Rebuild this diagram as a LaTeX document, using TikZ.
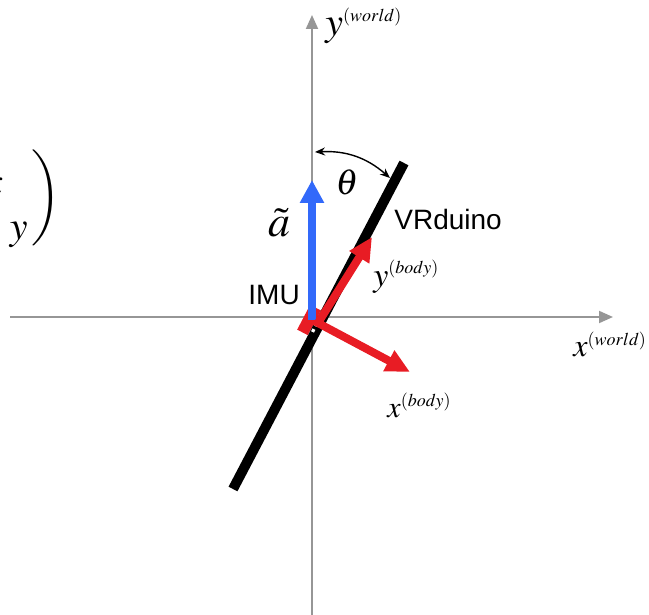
\documentclass[tikz,border=0pt]{standalone}
\usepackage{amsmath}
\usepackage{mathptmx}
\usepackage[no-math]{fontspec}
\setmainfont{Liberation Sans}
\usetikzlibrary{arrows.meta}

\definecolor{axisgray}{RGB}{150,150,150}
\definecolor{accblue}{RGB}{50,105,250}
\definecolor{bodyred}{RGB}{232,28,36}

\tikzset{
  worldaxis/.style={axisgray, line width=1pt, -{Triangle[length=7pt,width=6pt]}},
  bodyaxis/.style={bodyred, line width=4pt, line join=miter,
    {Triangle[length=12pt,width=11pt]}-{Triangle[length=12pt,width=11pt]}},
  mathlabel/.style={inner sep=0pt, font=\fontsize{#1}{#1}\selectfont},
  textlabel/.style={inner sep=0pt, font=\fontsize{14}{17}\selectfont}
}
\newcommand{\framesup}[2]{$#1^{\mbox{\fontsize{9}{9}\selectfont$(#2)$}}$}

\begin{document}
\begin{tikzpicture}[x=0.5pt, y=-0.5pt]
  \useasboundingbox (0,0) rectangle (649,615);
  \clip (0,0) rectangle (649,615);

  \coordinate (xw0) at (10,317);
  \coordinate (xw1) at (613,317);
  \coordinate (yw0) at (312,615);
  \coordinate (yw1) at (312,15);
  \draw[worldaxis] (xw0) -- (xw1);
  \draw[worldaxis] (yw0) -- (yw1);

  \node[mathlabel=20, anchor=base east] (accx) at (4,190) {$\tilde{a}_{\textstyle\mkern8mu x}$};
  \node[mathlabel=20, anchor=base east] (accy) at (29,234) {$\tilde{a}_{\textstyle\mkern8mu y}$};
  \node[mathlabel=20, anchor=center] (accparen) at (45,198)
    {$\left.\rule[-17pt]{0pt}{34pt}\right)$};

  \node[fill=bodyred, rotate=62.3, minimum width=14pt, minimum height=6pt,
    inner sep=0pt] (chip) at (309,320) {};

  \coordinate (acc0) at (312,320);
  \coordinate (acc1) at (312,180);
  \draw[accblue, line width=4pt, -{Triangle[length=11.5pt,width=11.5pt]}] (acc0) -- (acc1);

  \coordinate (bar0) at (233,489);
  \coordinate (bar1) at (404,163);
  \draw[black, line width=5pt] (bar0) -- (bar1);
  \coordinate (pin0) at (312.5,332);
  \coordinate (pin1) at (323,311);
  \draw[white, line width=1.6pt, dash pattern=on 1.6pt off 1.6pt] (pin0) -- (pin1);

  \coordinate (bodyO) at (318,323);
  \coordinate (ybody) at (372,237);
  \coordinate (xbody) at (410,372);
  \draw[bodyaxis] (ybody) -- (bodyO) -- (xbody);

  \coordinate (th0) at (315,152);
  \coordinate (th1) at (390,178);
  \draw[black, line width=0.7pt, {Stealth[length=5pt,width=4pt]}-{Stealth[length=5pt,width=4pt]}]
    (th0) to[bend left=22] (th1);

  \node[mathlabel=20, anchor=base west] (ywlabel) at (325,36) {\framesup{y}{world}};
  \node[mathlabel=16, anchor=base west] (xwlabel) at (573,357) {\framesup{x}{world}};
  \node[mathlabel=17, anchor=base west] (yblabel) at (373,286) {\framesup{y}{body}};
  \node[mathlabel=15, anchor=base west] (xblabel) at (387,417) {\framesup{x}{body}};
  \node[mathlabel=18, anchor=center] (thlabel) at (347,182) {$\theta$};
  \node[mathlabel=22, anchor=base] (acclabel) at (279,237) {$\tilde{a}$};
  \node[textlabel, anchor=base west] (vrlabel) at (394,230) {VRduino};
  \node[textlabel, anchor=base west] (imulabel) at (248,305) {IMU};
\end{tikzpicture}
\end{document}
